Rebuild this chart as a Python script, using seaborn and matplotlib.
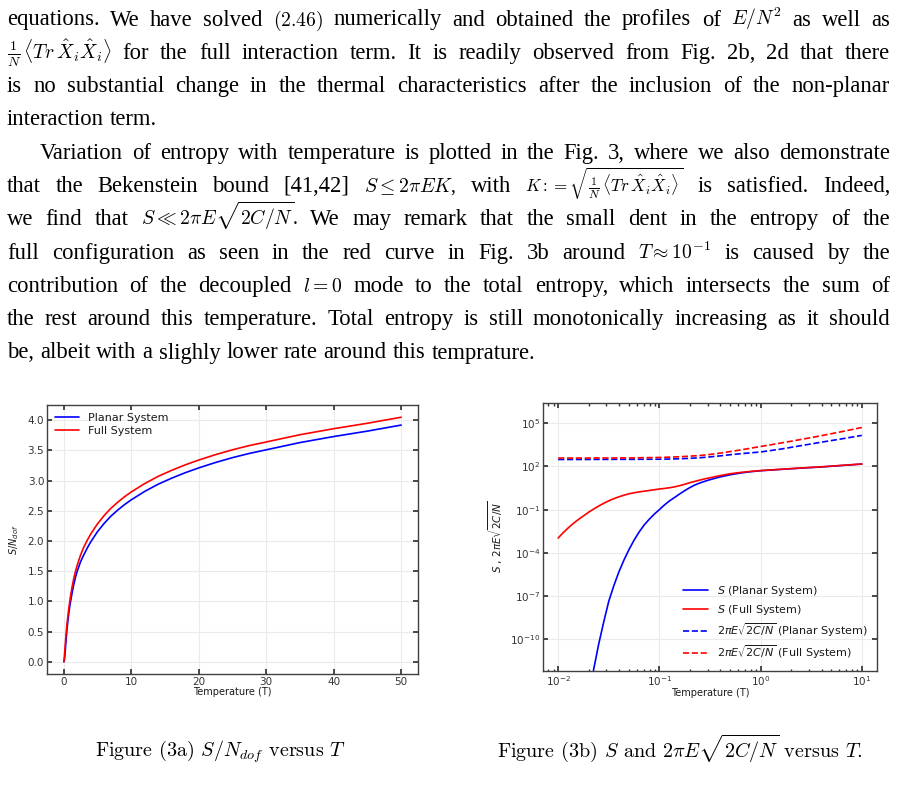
import numpy as np
import pandas as pd
import matplotlib
matplotlib.use("Agg")
import matplotlib.pyplot as plt
import matplotlib.ticker as mticker
import seaborn as sns

# ---------------- data: Fig 3a, S/N_dof versus T ----------------
temp_a = [0.05, 0.1, 0.2, 0.3, 0.4, 0.5, 0.6, 0.75, 0.9, 1, 1.25, 1.5, 1.75, 2,
          2.5, 3, 3.5, 4, 5, 6, 7, 8, 9, 10, 12, 14, 16, 18, 20, 22.5, 25,
          27.5, 30, 35, 40, 45, 50]
planar_a = [0.0, 0.01, 0.1, 0.25, 0.39, 0.52, 0.63, 0.78, 0.9, 0.97, 1.13, 1.27,
            1.39, 1.49, 1.65, 1.77, 1.88, 1.98, 2.15, 2.29, 2.41, 2.51, 2.6, 2.68,
            2.82, 2.94, 3.04, 3.13, 3.21, 3.3, 3.38, 3.45, 3.51, 3.63, 3.73, 3.82, 3.92]
full_a = [0.0, 0.05, 0.2, 0.35, 0.49, 0.61, 0.71, 0.86, 0.98, 1.06, 1.23, 1.37,
          1.49, 1.59, 1.76, 1.9, 2.01, 2.11, 2.28, 2.42, 2.54, 2.64, 2.73, 2.81,
          2.95, 3.07, 3.17, 3.26, 3.34, 3.43, 3.51, 3.58, 3.64, 3.76, 3.86, 3.95, 4.05]

# ---------------- data: Fig 3b, S and 2piE sqrt(2C/N) versus T ----------------
# curve heights, stored as powers of ten
temp_b = [0.01, 0.0112, 0.0126, 0.0141, 0.0158, 0.0178, 0.02, 0.0224, 0.0251, 0.0282,
          0.0316, 0.0355, 0.0398, 0.0447, 0.0501, 0.0562, 0.0631, 0.0708, 0.0794, 0.0891,
          0.1, 0.112, 0.126, 0.141, 0.158, 0.178, 0.2, 0.224, 0.251, 0.282,
          0.316, 0.398, 0.501, 0.631, 0.794, 1, 1.58, 2.51, 3.98, 6.31, 10]
log_s_planar = [np.nan, np.nan, np.nan, np.nan, np.nan, np.nan, -14.3, -12.1, -10.35, -8.79,
                -7.36, -6.27, -5.32, -4.49, -3.77, -3.12, -2.55, -2.06, -1.67, -1.31,
                -1.0, -0.68, -0.39, -0.16, 0.08, 0.32, 0.53, 0.71, 0.85, 0.97,
                1.08, 1.27, 1.42, 1.54, 1.63, 1.7, 1.79, 1.88, 1.96, 2.06, 2.16]
log_s_full = [-2.97, -2.6, -2.26, -1.96, -1.69, -1.43, -1.18, -0.96, -0.75, -0.56,
              -0.39, -0.24, -0.11, 0.0, 0.1, 0.17, 0.23, 0.28, 0.33, 0.38,
              0.43, 0.47, 0.52, 0.58, 0.66, 0.76, 0.87, 0.96, 1.05, 1.14,
              1.21, 1.36, 1.49, 1.58, 1.65, 1.71, 1.8, 1.89, 1.97, 2.07, 2.17]
log_bound_planar = [2.48, 2.48, 2.48, 2.48, 2.48, 2.48, 2.48, 2.485, 2.485, 2.485,
                    2.485, 2.49, 2.49, 2.49, 2.49, 2.49, 2.495, 2.495, 2.495, 2.5,
                    2.5, 2.505, 2.51, 2.52, 2.53, 2.545, 2.56, 2.58, 2.6, 2.63,
                    2.66, 2.73, 2.81, 2.88, 2.94, 3.0, 3.2, 3.44, 3.68, 3.91, 4.15]
log_bound_full = [2.58, 2.58, 2.58, 2.58, 2.58, 2.58, 2.58, 2.585, 2.585, 2.585,
                  2.585, 2.585, 2.59, 2.59, 2.59, 2.59, 2.6, 2.605, 2.61, 2.615,
                  2.62, 2.63, 2.64, 2.655, 2.67, 2.69, 2.71, 2.735, 2.76, 2.79,
                  2.83, 2.92, 3.03, 3.14, 3.26, 3.38, 3.62, 3.87, 4.13, 4.41, 4.7]

# ---------------- page text ----------------
body_lines = [
    (r"equations. We have solved $(2.46)$ numerically and obtained the profiles of $E/N^2$ as well as", True, 7),
    (r"$\frac{1}{N}\,\langle Tr\,\hat{X}_i\hat{X}_i\rangle$ for the full interaction term. It is readily observed from Fig. 2b, 2d that there", True, 7),
    (r"is no substantial change in the thermal characteristics after the inclusion of the non-planar", True, 7),
    (r"interaction term.", False, 7),
    (r"Variation of entropy with temperature is plotted in the Fig. 3, where we also demonstrate", True, 40),
    (r"that the Bekenstein bound [41,42] $S\leq 2\pi EK$, with $K := \sqrt{\frac{1}{N}\,\langle Tr\,\hat{X}_i\hat{X}_i\rangle}$ is satisfied. Indeed,", True, 7),
    (r"we find that $S \ll 2\pi E\sqrt{2C/N}$. We may remark that the small dent in the entropy of the", True, 7),
    (r"full configuration as seen in the red curve in Fig. 3b around $T\approx 10^{-1}$ is caused by the", True, 7),
    (r"contribution of the decoupled $l=0$ mode to the total entropy, which intersects the sum of", True, 7),
    (r"the rest around this temperature. Total entropy is still monotonically increasing as it should", True, 7),
    (r"be, albeit with a slighly lower rate around this temprature.", False, 7),
]
caption_a = r"Figure (3a) $S/N_{dof}$ versus $T$"
caption_b = r"Figure (3b) $S$ and $2\pi E\sqrt{2C/N}$ versus $T$."

W, H = 899, 790

sns.set_theme(style="whitegrid", rc={
    "axes.edgecolor": "0.25",
    "axes.linewidth": 1.0,
    "grid.color": "0.92",
    "grid.linewidth": 0.8,
    "xtick.direction": "in",
    "ytick.direction": "in",
    "xtick.bottom": True,
    "ytick.left": True,
    "xtick.top": True,
    "ytick.right": True,
    "xtick.major.size": 3.5,
    "ytick.major.size": 3.5,
    "xtick.minor.size": 1.8,
    "xtick.color": "0.2",
    "ytick.color": "0.2",
    "text.color": "0.1",
    "axes.labelcolor": "0.1",
})
plt.rcParams["font.family"] = ["DejaVu Sans"]

fig = plt.figure(figsize=(W / 100, H / 100), dpi=100)

# ---- left panel ----
ax1 = fig.add_axes([47 / W, 1 - 674 / H, 371 / W, 269 / H])
df_a = pd.DataFrame({"T": temp_a, "planar": planar_a, "full": full_a})
sns.lineplot(data=df_a, x="T", y="planar", ax=ax1, color="blue", lw=1.2,
             label="Planar System", estimator=None, sort=False)
sns.lineplot(data=df_a, x="T", y="full", ax=ax1, color="red", lw=1.2,
             label="Full System", estimator=None, sort=False)
ax1.set_yticks([0.0, 0.5, 1.0, 1.5, 2.0, 2.5, 3.0, 3.5, 4.0])
ax1.set_xlabel("Temperature (T)", fontsize=7, labelpad=0)
ax1.set_ylabel(r"$S/N_{dof}$", fontsize=7, labelpad=5)
ax1.tick_params(labelsize=7.5, pad=2)
ax1.legend(loc="upper left", frameon=False, fontsize=8, handlelength=2.2,
           borderaxespad=0.3, labelspacing=0.3)

# ---- right panel ----
ax2 = fig.add_axes([543 / W, 1 - 671 / H, 334 / W, 268 / H])
ax2.set_xscale("log")
ax2.set_yscale("log")
df_b = pd.DataFrame({"T": temp_b,
                     "sp": 10.0 ** np.array(log_s_planar),
                     "sf": 10.0 ** np.array(log_s_full),
                     "bp": 10.0 ** np.array(log_bound_planar),
                     "bf": 10.0 ** np.array(log_bound_full)})
sns.lineplot(data=df_b, x="T", y="sp", ax=ax2, color="blue", lw=1.2,
             label=r"$S$ (Planar System)", estimator=None, sort=False)
sns.lineplot(data=df_b, x="T", y="sf", ax=ax2, color="red", lw=1.2,
             label=r"$S$ (Full System)", estimator=None, sort=False)
sns.lineplot(data=df_b, x="T", y="bp", ax=ax2, color="blue", lw=1.2, linestyle="--",
             label=r"$2\pi E\sqrt{2C/N}$ (Planar System)", estimator=None, sort=False)
sns.lineplot(data=df_b, x="T", y="bf", ax=ax2, color="red", lw=1.2, linestyle="--",
             label=r"$2\pi E\sqrt{2C/N}$ (Full System)", estimator=None, sort=False)
ax2.set_ylim(10 ** -12.2, 10 ** 6.4)
ax2.yaxis.set_major_locator(mticker.FixedLocator([1e-10, 1e-7, 1e-4, 1e-1, 1e2, 1e5]))
ax2.yaxis.set_minor_locator(mticker.NullLocator())
ax2.set_xlabel("Temperature (T)", fontsize=7, labelpad=0)
ax2.set_ylabel(r"$S$ , $2\pi E\sqrt{2C/N}$", fontsize=7.5, labelpad=4)
ax2.tick_params(labelsize=7.5, pad=2)
ax2.legend(loc="lower right", frameon=False, fontsize=8, handlelength=2.2,
           borderaxespad=0.5, labelspacing=0.4)


# ---- page text, justified word by word ----
def split_words(s):
    out, cur, inmath = [], "", False
    for ch in s:
        if ch == "$":
            inmath = not inmath
        if ch == " " and not inmath:
            if cur:
                out.append(cur)
            cur = ""
        else:
            cur += ch
    if cur:
        out.append(cur)
    return out


def word_size(w):
    if r"\sqrt{\frac" in w:
        return 12.3
    return 14.2 if "$" in w else 16.3


renderer = fig.canvas.get_renderer()
body_kw = dict(family="Liberation Serif", math_fontfamily="cm",
               va="baseline", ha="left", color="black")
for i, (line, justify, x0) in enumerate(body_lines):
    y = 1 - (25.5 + 33.3 * i) / H
    words = split_words(line)
    objs = [fig.text(0, y, w, fontsize=word_size(w), **body_kw) for w in words]
    widths = [o.get_window_extent(renderer).width for o in objs]
    if justify:
        gap = (890 - x0 - sum(widths)) / (len(words) - 1)
    else:
        gap = 6.0
    x = x0
    for o, w in zip(objs, widths):
        o.set_x(x / W)
        x += w + gap

cap_kw = dict(family="cmr10", fontsize=14.5, math_fontfamily="cm",
              va="baseline", ha="left", color="black")
fig.text(95 / W, 1 - 756.5 / H, caption_a, **cap_kw)
fig.text(497 / W, 1 - 756.5 / H, caption_b, **cap_kw)

fig.savefig("out.png", dpi=100)
